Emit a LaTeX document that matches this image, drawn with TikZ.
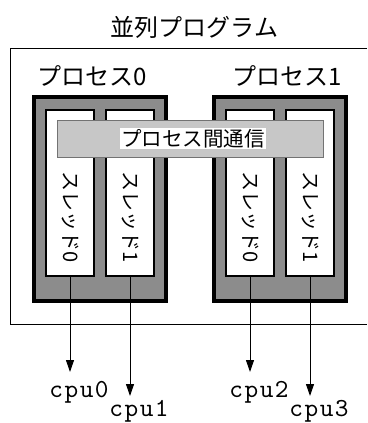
\documentclass[tikz,border=0pt]{standalone}
\usepackage{fontspec}
\setmainfont{Noto Sans CJK JP}
\newfontfamily\jpfont{Noto Sans CJK JP}
\newfontfamily\cpufont[LetterSpace=6]{lmmono10-regular.otf}
\usetikzlibrary{arrows.meta,patterns}
\begin{document}
\begin{tikzpicture}[x=1pt,y=-1pt,
  procbox/.style={draw=black,line width=4pt,fill=black!45,minimum width=132pt,minimum height=204pt,inner sep=0pt},
  threadbox/.style={draw=black,line width=2pt,fill=white,minimum width=48pt,minimum height=166pt,inner sep=0pt},
  commbar/.style={draw=black!55,line width=0.8pt,fill=black!22,minimum width=266pt,minimum height=37pt,inner sep=0pt},
  commtext/.style={fill=white,inner sep=1pt,font=\jpfont\fontsize{20.5pt}{22pt}\selectfont},
  threadlabel/.style={rotate=-90,inner sep=0pt,font=\jpfont\fontsize{20pt}{22pt}\selectfont},
  proclabel/.style={inner sep=0pt,font=\jpfont\fontsize{24pt}{26pt}\selectfont},
  titlelabel/.style={inner sep=0pt,font=\jpfont\fontsize{24pt}{26pt}\selectfont},
  cpulabel/.style={inner sep=0pt,anchor=base,font=\cpufont\fontsize{26pt}{28pt}\selectfont},
  arr/.style={-{Triangle[length=12pt,width=8pt]},line width=1pt}]
\useasboundingbox (0,0) rectangle (367,423);
\fill[white] (0,0) rectangle (367,423);
% title
\node[titlelabel] (title) at (194.5,27) {並列プログラム};
% outer frame (open on the right)
\draw[line width=1pt] (367,48) -- (10,48) -- (10,324) -- (367,324);
% process labels
\node[proclabel] (pl0) at (92,76) {プロセス0};
\node[proclabel] (pl1) at (287,76) {プロセス1};
% process boxes
\node[procbox] (p0) at (100,199) {};
\node[procbox] (p1) at (280,199) {};
% thread boxes
\node[threadbox] (t00) at (70,193) {};
\node[threadbox] (t01) at (130,193) {};
\node[threadbox] (t10) at (250,193) {};
\node[threadbox] (t11) at (310,193) {};
% communication bar
\node[commbar] (comm) at (190,138.5) {};
\node[commtext] (commt) at (193,138.5) {プロセス間通信};
% thread labels
\node[threadlabel] (l00) at (70,217) {スレッド0};
\node[threadlabel] (l01) at (130,217) {スレッド1};
\node[threadlabel] (l10) at (250,217) {スレッド0};
\node[threadlabel] (l11) at (310,217) {スレッド1};
% arrow ends
\coordinate (e0) at (70,372);
\coordinate (e1) at (130,396);
\coordinate (e2) at (250,372);
\coordinate (e3) at (310,396);
\draw[arr] (t00.south) -- (e0);
\draw[arr] (t01.south) -- (e1);
\draw[arr] (t10.south) -- (e2);
\draw[arr] (t11.south) -- (e3);
% cpu labels
\node[cpulabel] (c0) at (79,397) {cpu0};
\node[cpulabel] (c1) at (139,416) {cpu1};
\node[cpulabel] (c2) at (259,397) {cpu2};
\node[cpulabel] (c3) at (319,416) {cpu3};
\end{tikzpicture}
\end{document}
